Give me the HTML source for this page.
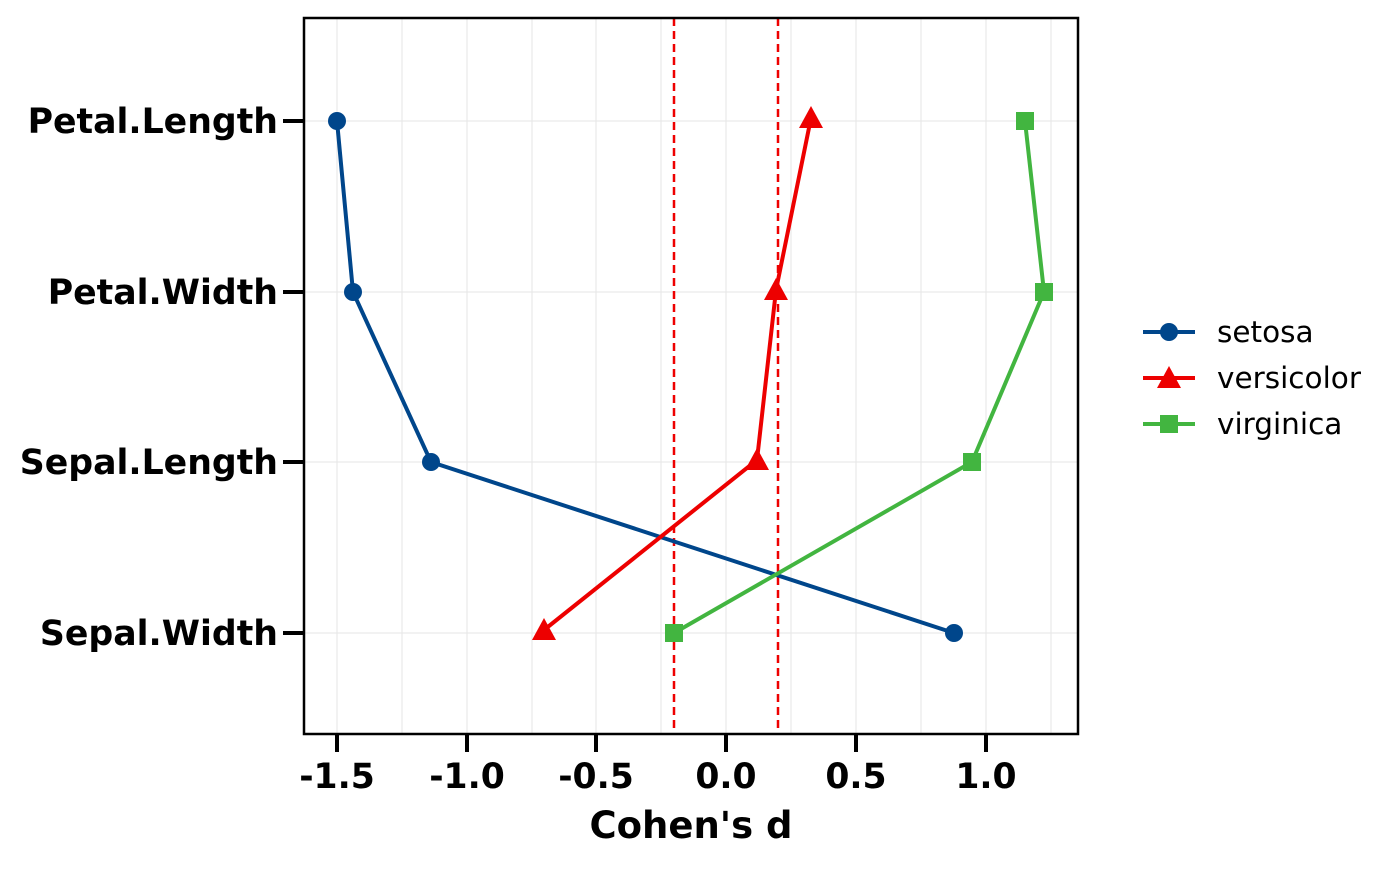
<!DOCTYPE html>
<html><head><style>body{margin:0;background:#fff}</style></head><body>
<svg width="1400" height="866" xmlns="http://www.w3.org/2000/svg" font-family="DejaVu Sans, Liberation Sans, sans-serif">
<rect width="1400" height="866" fill="#fff"/>
<g stroke="#e6e6e6" stroke-width="1">
<line x1="337" y1="18" x2="337" y2="734"/><line x1="402" y1="18" x2="402" y2="734"/><line x1="467" y1="18" x2="467" y2="734"/><line x1="532" y1="18" x2="532" y2="734"/><line x1="596" y1="18" x2="596" y2="734"/><line x1="661" y1="18" x2="661" y2="734"/><line x1="726" y1="18" x2="726" y2="734"/><line x1="791" y1="18" x2="791" y2="734"/><line x1="856" y1="18" x2="856" y2="734"/><line x1="921" y1="18" x2="921" y2="734"/><line x1="986" y1="18" x2="986" y2="734"/><line x1="1051" y1="18" x2="1051" y2="734"/>
<line x1="304" y1="121" x2="1078" y2="121"/><line x1="304" y1="292" x2="1078" y2="292"/><line x1="304" y1="462" x2="1078" y2="462"/><line x1="304" y1="633" x2="1078" y2="633"/>
</g>
<g stroke="#e00" stroke-width="2.5" stroke-dasharray="8,5">
<line x1="674" y1="18" x2="674" y2="734"/><line x1="778" y1="18" x2="778" y2="734"/>
</g>
<polyline points="337,121 353,292 431,462 954,633" fill="none" stroke="#00468b" stroke-width="4"/>
<polyline points="811,118 776,290 757,460 544,630" fill="none" stroke="#ed0000" stroke-width="4"/>
<polyline points="1025,121 1044,292 972,462 674,633" fill="none" stroke="#42b540" stroke-width="4"/>
<g fill="#00468b"><circle cx="337" cy="121" r="9"/><circle cx="353" cy="292" r="9"/><circle cx="431" cy="462" r="9"/><circle cx="954" cy="633" r="9"/></g>
<g fill="#ed0000"><polygon points="811,106 799,128 823,128"/><polygon points="776,278 764,300 788,300"/><polygon points="757,448 745,470 769,470"/><polygon points="544,618 532,640 556,640"/></g>
<g fill="#42b540"><rect x="1016" y="112" width="18" height="18"/><rect x="1035" y="283" width="18" height="18"/><rect x="963" y="453" width="18" height="18"/><rect x="665" y="624" width="18" height="18"/></g>
<rect x="304" y="18" width="774" height="716" fill="none" stroke="#000" stroke-width="2.5"/>
<g stroke="#000" stroke-width="4">
<line x1="283" y1="121" x2="304" y2="121"/><line x1="283" y1="292" x2="304" y2="292"/><line x1="283" y1="462" x2="304" y2="462"/><line x1="283" y1="633" x2="304" y2="633"/>
<line x1="337" y1="734" x2="337" y2="752"/><line x1="467" y1="734" x2="467" y2="752"/><line x1="596" y1="734" x2="596" y2="752"/><line x1="726" y1="734" x2="726" y2="752"/><line x1="856" y1="734" x2="856" y2="752"/><line x1="986" y1="734" x2="986" y2="752"/>
</g>
<g font-weight="bold" font-size="34.7" text-anchor="end">
<text x="278" y="133">Petal.Length</text><text x="278" y="304">Petal.Width</text><text x="278" y="474">Sepal.Length</text><text x="278" y="645">Sepal.Width</text>
</g>
<g font-weight="bold" font-size="34.6" text-anchor="middle">
<text x="337" y="788">-1.5</text><text x="467" y="788">-1.0</text><text x="596" y="788">-0.5</text><text x="726" y="788">0.0</text><text x="856" y="788">0.5</text><text x="986" y="788">1.0</text>
<text x="691" y="838" font-size="37">Cohen's d</text>
</g>
<line x1="1143" y1="332" x2="1195" y2="332" stroke="#00468b" stroke-width="4"/><circle cx="1169" cy="332" r="9" fill="#00468b"/>
<line x1="1143" y1="378" x2="1195" y2="378" stroke="#ed0000" stroke-width="4"/><polygon points="1169,366 1157,388 1181,388" fill="#ed0000"/>
<line x1="1143" y1="424" x2="1195" y2="424" stroke="#42b540" stroke-width="4"/><rect x="1160" y="415" width="18" height="18" fill="#42b540"/>
<g font-size="29.5"><text x="1217" y="342">setosa</text><text x="1217" y="388">versicolor</text><text x="1217" y="434">virginica</text></g>
</svg>
</body></html>
